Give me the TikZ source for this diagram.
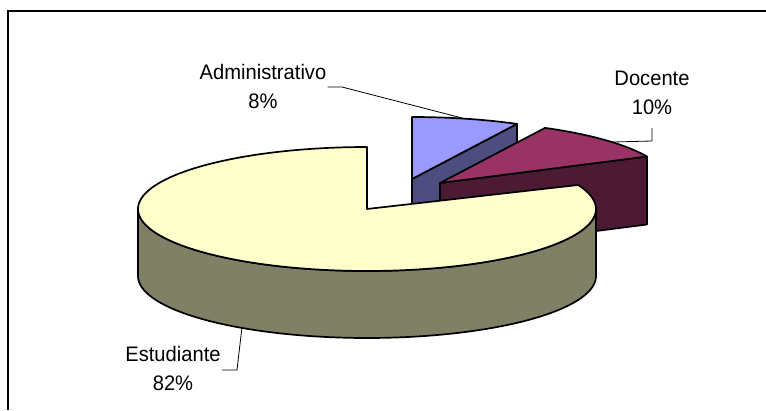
\documentclass[tikz,border=0pt]{standalone}
\usepackage{fontspec}
\setmainfont{Liberation Sans}[FakeStretch=0.96]
\definecolor{adtop}{HTML}{9999FF}
\definecolor{adside}{HTML}{4D4D80}
\definecolor{dotop}{HTML}{993366}
\definecolor{doside}{HTML}{4D1A33}
\definecolor{estop}{HTML}{FFFFCC}
\definecolor{esside}{HTML}{808066}
\begin{document}
\begin{tikzpicture}[x=1pt,y=-1pt,
  face/.style={draw=black, line width=1.7pt, line join=round},
  lbl/.style={align=center, font=\fontsize{21}{29}\selectfont, inner sep=1pt},
  leader/.style={draw=black, line width=0.8pt}]
\useasboundingbox (0,0) rectangle (766,410);
\fill[white] (0,0) rectangle (766,410);
\draw[line width=1.8pt] (8,410) -- (8,11) -- (766,11);
% Administrativo slice
\path[face, fill=adside] (412,179) -- (517,124) -- (517,191) -- (412,246) -- cycle;
\path[face, fill=adtop] (412,179) -- plot[variable=\t,domain=90:62.7,samples=30] ({412+229*cos(\t)},{179-62*sin(\t)}) -- cycle;
% Docente slice
\path[face, fill=doside] (440,183) -- (647,156.5) -- (647,224.5) -- (440,251) -- cycle;
\path[face, fill=dotop] (440,183) -- plot[variable=\t,domain=62.7:25.3,samples=40] ({440+229*cos(\t)},{183-62*sin(\t)}) -- cycle;
% Estudiante slice
\path[face, fill=esside] plot[variable=\t,domain=180:360,samples=90] ({367+229*cos(\t)},{209-62*sin(\t)}) -- plot[variable=\t,domain=360:180,samples=90] ({367+229*cos(\t)},{276-62*sin(\t)}) -- cycle;
\path[face, fill=estop] (367,209) -- plot[variable=\t,domain=90:382.8,samples=150] ({367+229*cos(\t)},{209-62*sin(\t)}) -- cycle;
% labels
\node[lbl] (labA) at (263,86) {Administrativo\\8\%};
\node[lbl] (labD) at (652,93) {Docente\\10\%};
\node[lbl] (labE) at (173,368) {Estudiante\\82\%};
% leader lines
\coordinate (a1) at (342,87);
\coordinate (a2) at (462,118);
\coordinate (d0) at (652,128);
\coordinate (d1) at (652,141);
\coordinate (d2) at (613,142);
\coordinate (e1) at (237,370);
\coordinate (e2) at (242,327);
\draw[leader] (labA.east |- a1) -- (a1) -- (a2);
\draw[leader] (d0) -- (d1) -- (d2);
\draw[leader] (labE.east |- e1) -- (e1) -- (e2);
\end{tikzpicture}
\end{document}
